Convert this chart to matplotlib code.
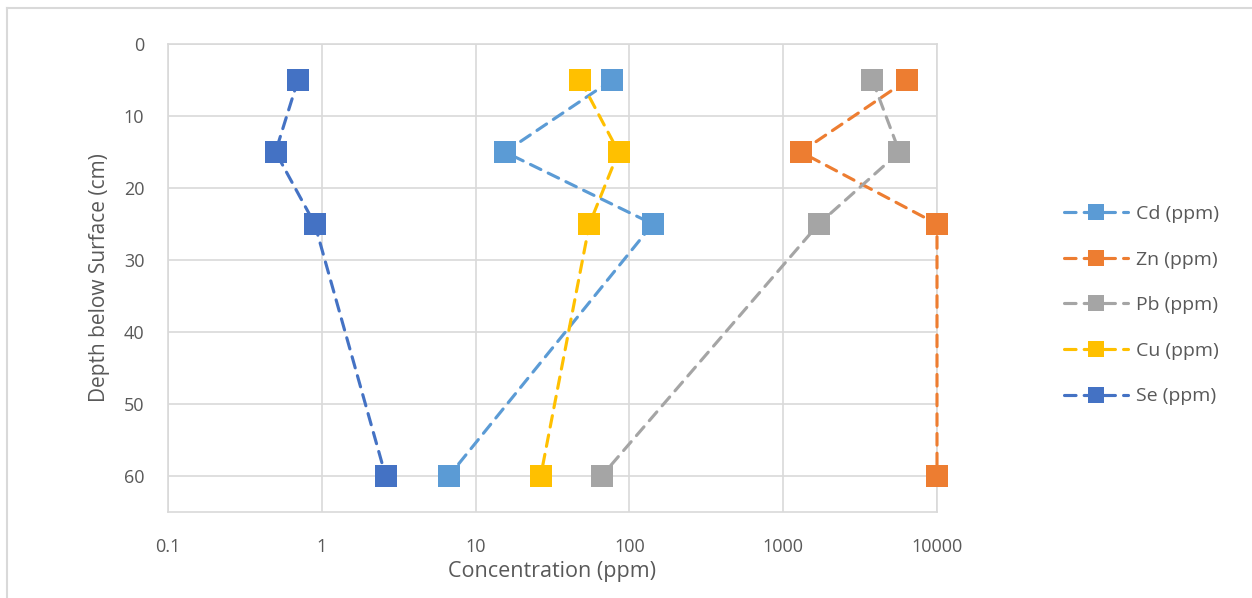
import matplotlib
matplotlib.use("Agg")
import matplotlib.pyplot as plt
from matplotlib.lines import Line2D
from matplotlib.ticker import FixedLocator, FixedFormatter, NullLocator

plt.rcParams['font.family'] = ['Open Sans', 'DejaVu Sans']

depth = [5, 15, 25, 60]
series_names = ["Cd (ppm)", "Zn (ppm)", "Pb (ppm)", "Cu (ppm)", "Se (ppm)"]
cd = [77, 15.5, 142, 6.7]
zn = [6400, 1300, 10000, 10000]
pb = [3800, 5700, 1700, 66]
cu = [48, 85, 55, 26.5]
se = [0.70, 0.50, 0.90, 2.6]
colors = ["#5B9BD5", "#ED7D31", "#A5A5A5", "#FFC000", "#4472C4"]

x_ticks = [0.1, 1, 10, 100, 1000, 10000]
x_tick_labels = ["0.1", "1", "10", "100", "1000", "10000"]
y_ticks = [0, 10, 20, 30, 40, 50, 60]

text_color = "#595959"
grid_color = "#D9D9D9"

fig = plt.figure(figsize=(12.52, 5.98), dpi=100)
ax = fig.add_axes([168 / 1252, 1 - 512 / 598, (937 - 168) / 1252, (512 - 44) / 598])

for name, vals, col in zip(series_names, [cd, zn, pb, cu, se], colors):
    ax.plot(vals, depth, color=col, lw=2.25, linestyle=(0, (3.7, 2.6)),
            marker="s", markersize=16.5, markeredgewidth=0, label=name,
            dash_capstyle="round", clip_on=False, zorder=3)

ax.set_xscale("log")
ax.set_xlim(0.1, 10000)
ax.set_ylim(65, 0)
ax.xaxis.set_major_locator(FixedLocator(x_ticks))
ax.xaxis.set_major_formatter(FixedFormatter(x_tick_labels))
ax.xaxis.set_minor_locator(NullLocator())
ax.set_yticks(y_ticks)

ax.grid(True, color=grid_color, lw=1.2, zorder=0)
for s in ax.spines.values():
    s.set_color(grid_color)
    s.set_linewidth(1.2)
ax.tick_params(axis="both", length=0, labelsize=13, labelcolor=text_color)
ax.tick_params(axis="x", pad=18.5)
ax.tick_params(axis="y", pad=17)

ax.set_xlabel("Concentration (ppm)", fontsize=15.5, color=text_color, labelpad=4)
ax.set_ylabel("Depth below Surface (cm)", fontsize=15, color=text_color, labelpad=10)

leg = ax.legend(loc="center left", bbox_to_anchor=(1.1645, 0.442), frameon=False,
                fontsize=14, labelcolor=text_color, handlelength=3.3,
                labelspacing=1.42, handletextpad=0.45, markerscale=0.72,
                borderpad=0, borderaxespad=0)

# chart-area border
fig.add_artist(Line2D([7 / 1252, 7 / 1252], [0, 1 - 8 / 598], color=grid_color, lw=1.5))
fig.add_artist(Line2D([7 / 1252, 1], [1 - 8 / 598, 1 - 8 / 598], color=grid_color, lw=1.5))

fig.savefig("out.png", dpi=100)
